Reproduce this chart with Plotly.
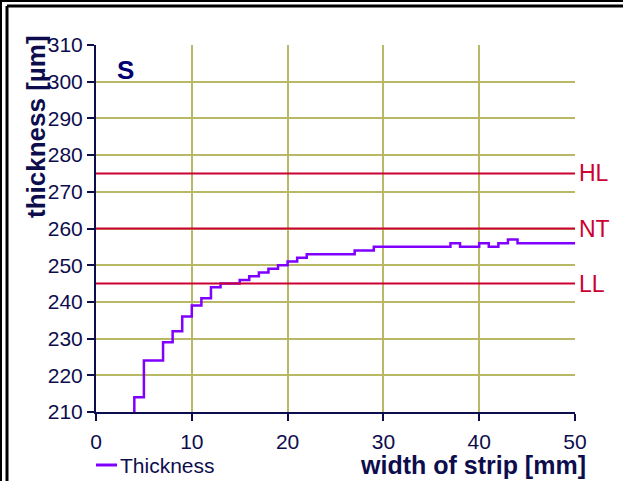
import plotly.graph_objects as go

# ---- data ----
width_mm = [3, 4, 5, 7, 8, 9, 10, 11, 12, 13, 15, 16, 17, 18, 19, 20, 21, 22, 27, 29,
            37, 38, 40, 41, 42, 43, 44, 50]
thickness_um = [200, 214, 224, 229, 232, 236, 239, 241, 244, 245, 246, 247, 248, 249,
                250, 251, 252, 253, 254, 255, 256, 255, 256, 255, 256, 257, 256, 256]
limit_names = ["HL", "NT", "LL"]
limit_values = [275, 260, 245]
x_ticks = [0, 10, 20, 30, 40, 50]
y_ticks = [210, 220, 230, 240, 250, 260, 270, 280, 290, 300, 310]
series_name = "Thickness"

W, H = 623, 481
ML, MR, MT, MB = 96, 48, 45, 69
PW, PH = W - ML - MR, H - MT - MB

NAVY = "#0d0d4d"
RED = "#cc0033"
GRID = "#b9b864"
PURPLE = "#8000ff"
FONT = "Liberation Sans, Arial, sans-serif"


def px2x(px):
    return (px - ML) / PW


def py2y(py):
    return 1 - (py - MT) / PH


fig = go.Figure()
fig.add_trace(go.Scatter(
    x=width_mm, y=thickness_um, mode="lines", name=series_name, showlegend=False,
    line=dict(color=PURPLE, width=2.5, shape="hv"),
))

shapes = []
annotations = []
for name, val in zip(limit_names, limit_values):
    shapes.append(dict(type="line", xref="x domain", yref="y", x0=0, x1=1, y0=val, y1=val,
                       line=dict(color=RED, width=2)))
    annotations.append(dict(xref="x domain", yref="y", x=1, y=val, text=name, showarrow=False,
                            xanchor="left", yanchor="middle", xshift=2,
                            font=dict(family=FONT, size=23, color=RED)))

# frame (double line at left and top)
frame = [
    (0, 1, W + 5, 1, 2), (7, 6, W + 5, 6, 3),
    (1, 0, 1, H + 5, 2), (7, 6, 7, H + 5, 3),
]
for x0, y0, x1, y1, w in frame:
    shapes.append(dict(type="line", xref="paper", yref="paper",
                       x0=px2x(x0), y0=py2y(y0), x1=px2x(x1), y1=py2y(y1),
                       line=dict(color="black", width=w)))

# legend (drawn manually so it does not push the margins)
shapes.append(dict(type="line", xref="paper", yref="paper",
                   x0=px2x(96), x1=px2x(117), y0=py2y(465), y1=py2y(465),
                   line=dict(color=PURPLE, width=3)))
annotations.append(dict(xref="paper", yref="paper", x=px2x(118), y=py2y(465), text=series_name,
                        showarrow=False, xanchor="left", yanchor="middle",
                        font=dict(family=FONT, size=21, color=NAVY)))

annotations.append(dict(xref="paper", yref="paper", x=px2x(115), y=py2y(70), text="<b>S</b>",
                        showarrow=False, xanchor="left", yanchor="middle",
                        font=dict(family=FONT, size=26, color="#000070")))
annotations.append(dict(xref="paper", yref="paper", x=px2x(36), y=py2y(127),
                        text="<b>thickness [µm]</b>", textangle=-90, showarrow=False,
                        xanchor="center", yanchor="middle",
                        font=dict(family=FONT, size=26, color=NAVY)))
annotations.append(dict(xref="paper", yref="paper", x=px2x(588), y=py2y(465),
                        text="<b>width of strip [mm]</b>", showarrow=False,
                        xanchor="right", yanchor="middle",
                        font=dict(family=FONT, size=25, color=NAVY)))

fig.update_layout(
    width=W, height=H,
    margin=dict(l=ML, r=MR, t=MT, b=MB, pad=0, autoexpand=False),
    paper_bgcolor="white", plot_bgcolor="white",
    font=dict(family=FONT, size=21, color=NAVY),
    showlegend=False,
    shapes=shapes, annotations=annotations,
    xaxis=dict(range=[0, 50], tickvals=x_ticks, showgrid=True, gridcolor=GRID, gridwidth=2,
               showline=True, linecolor=NAVY, linewidth=2, ticks="outside", ticklen=7,
               tickwidth=2, tickcolor=NAVY, zeroline=False, ticklabelstandoff=3,
               tickfont=dict(family=FONT, size=21, color=NAVY)),
    yaxis=dict(range=[210, 310], tickvals=y_ticks, showgrid=True, gridcolor=GRID, gridwidth=2,
               showline=True, linecolor=NAVY, linewidth=2, ticks="outside", ticklen=7,
               tickwidth=2, tickcolor=NAVY, zeroline=False,
               tickfont=dict(family=FONT, size=21, color=NAVY)),
)

fig.write_html("out.html", config={"displayModeBar": False},
               post_script="document.body.style.margin='0';document.body.style.overflow='hidden';"
                           "document.documentElement.style.overflow='hidden';")
